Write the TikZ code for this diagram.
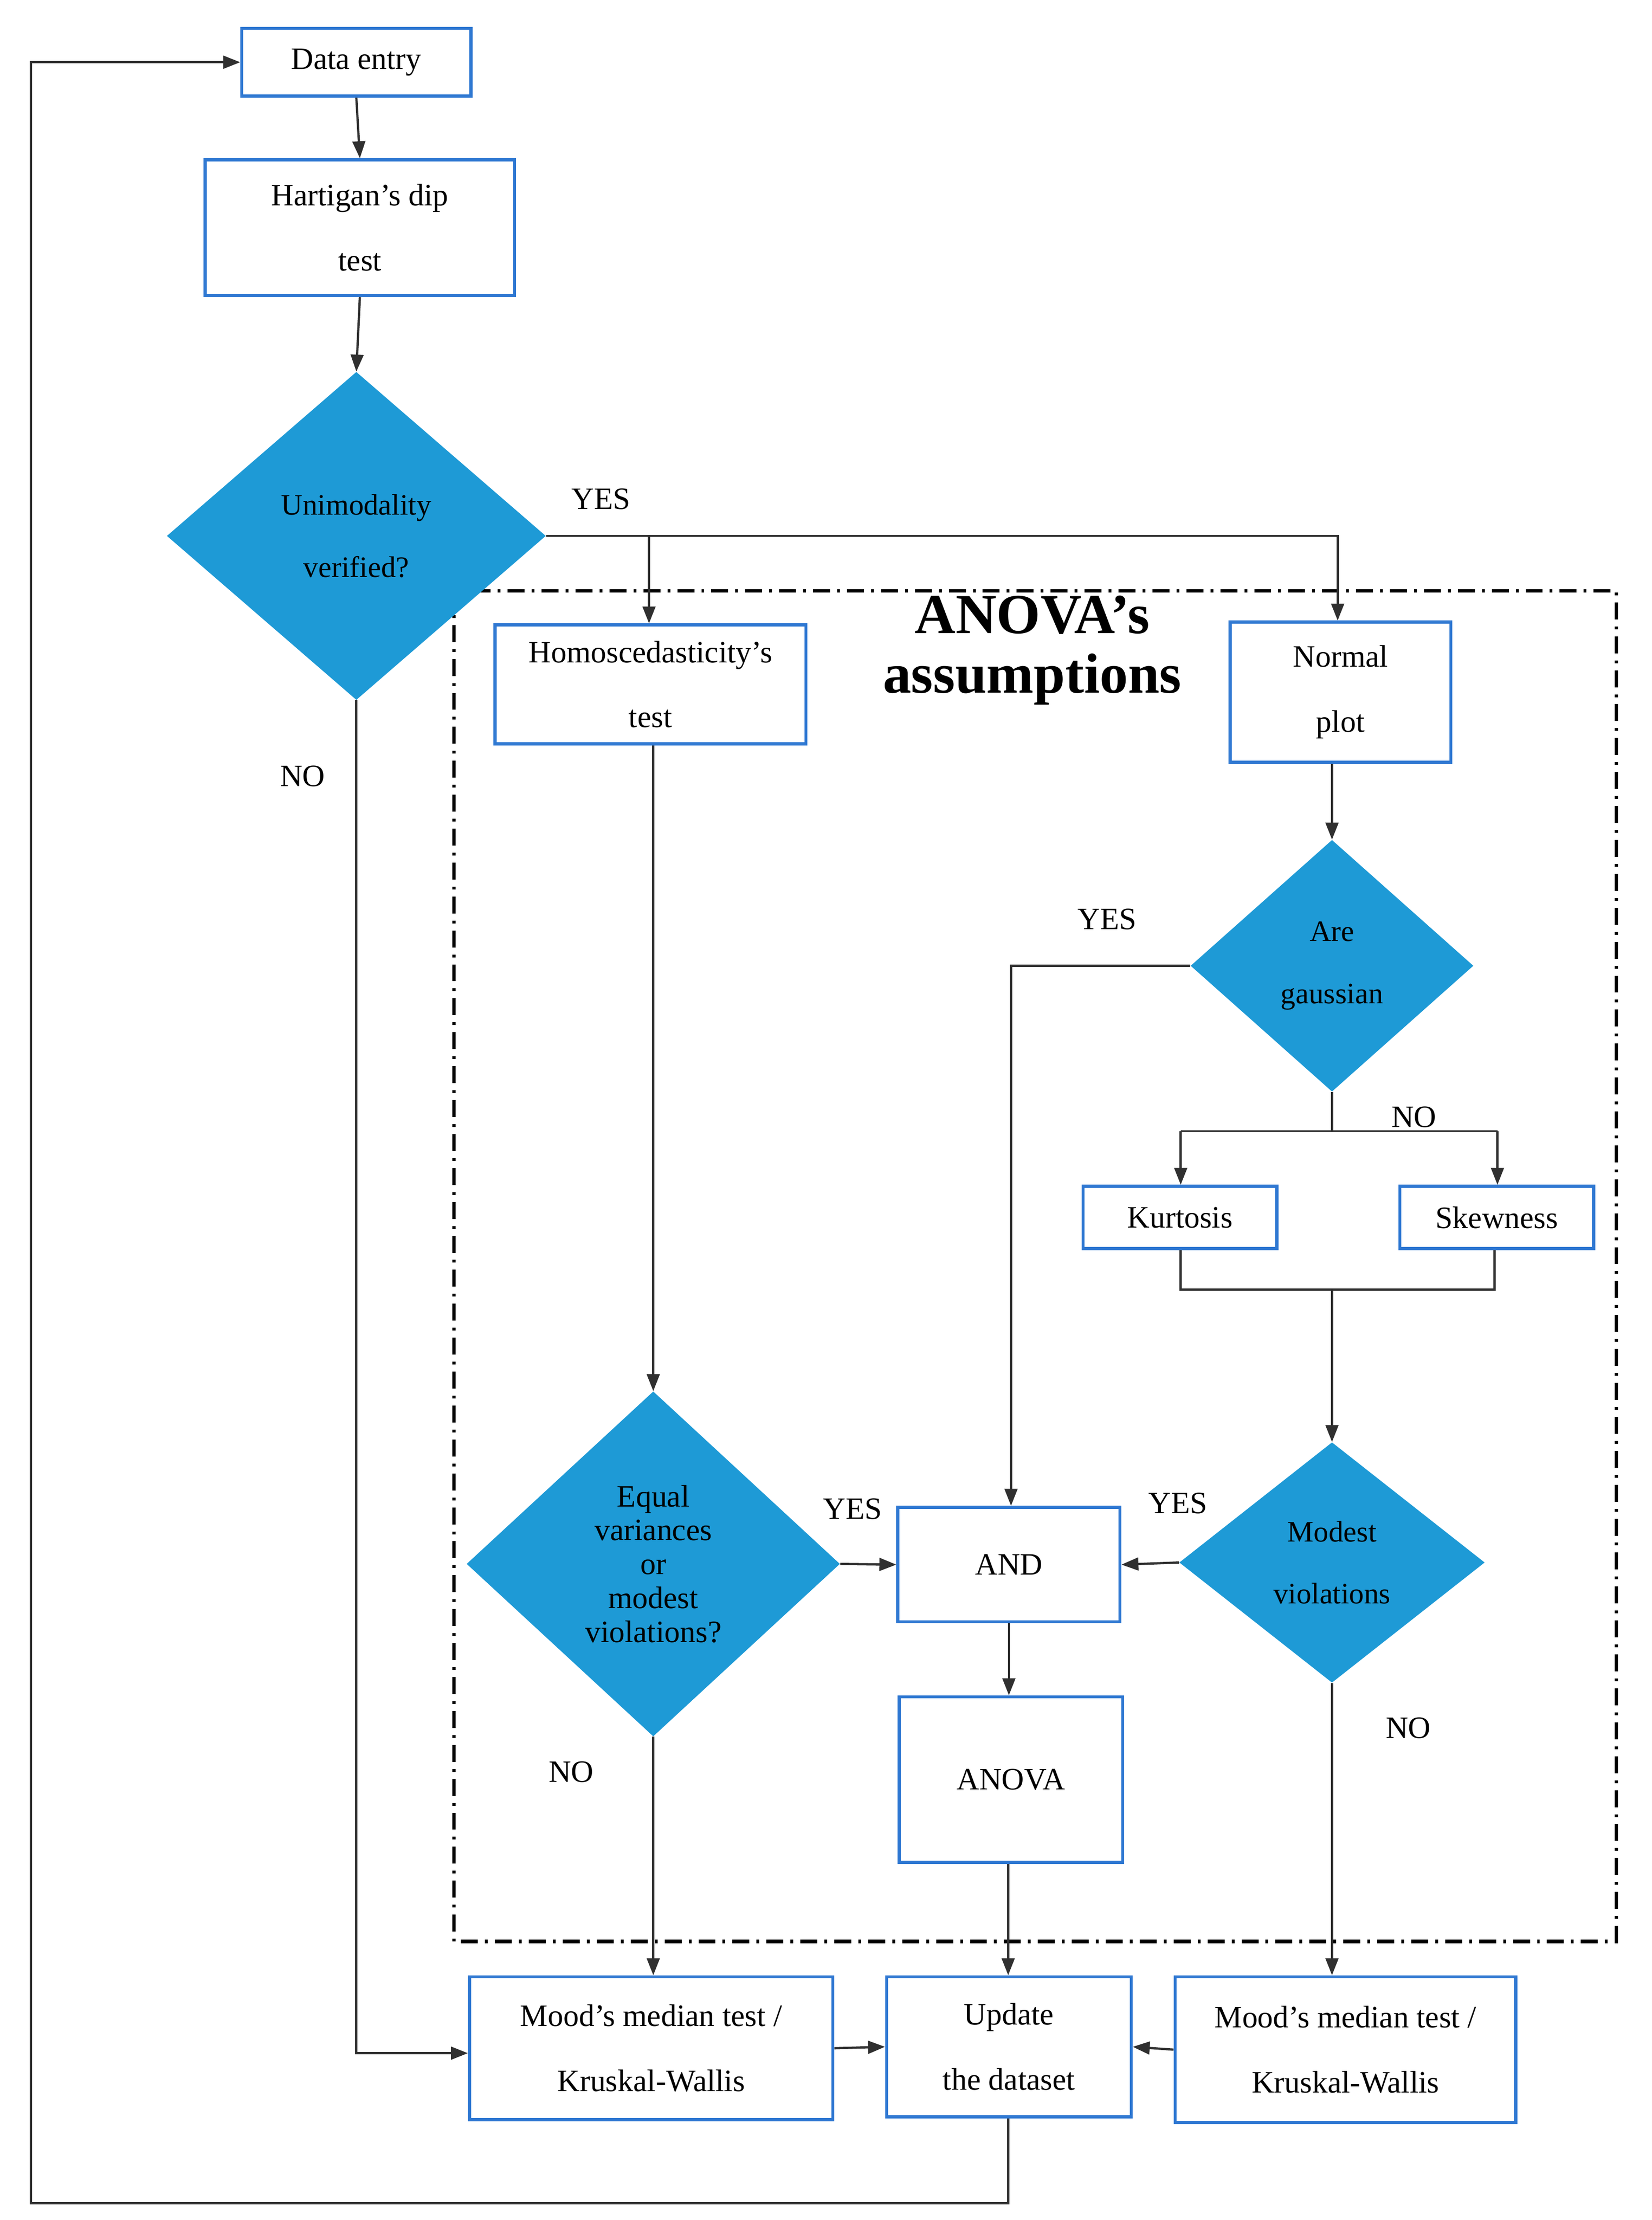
\documentclass[tikz,border=0pt]{standalone}
\usepackage{fontspec}
\setmainfont{Liberation Serif}
\usetikzlibrary{shapes.geometric,arrows.meta}
\definecolor{bbord}{HTML}{2F78D2}
\definecolor{dfill}{HTML}{1E9AD6}
\definecolor{lin}{HTML}{303030}
\begin{document}
\begin{tikzpicture}[x=1pt,y=-1pt,
  box/.style={draw=bbord,line width=2.2pt,fill=white,inner sep=0pt,align=center,font=\fontsize{22}{46}\selectfont},
  dia/.style={diamond,fill=dfill,inner sep=0pt,align=center,font=\fontsize{21}{44}\selectfont},
  lab/.style={font=\fontsize{22}{26}\selectfont},
  con/.style={draw=lin,line width=1.6pt},
  arr/.style={con,-{Triangle[length=12pt,width=9pt]}}]
\useasboundingbox (0,0) rectangle (1168,1570);
\draw[line width=2.4pt,dash pattern=on 12pt off 5pt on 2pt off 5pt] (321,418) rectangle (1143,1373);
\node[font=\fontsize{40}{42}\selectfont\bfseries,align=center] (title) at (730,460) {ANOVA’s\\assumptions};
% boxes
\node[box,minimum width=162pt,minimum height=48pt] (data) at (252,44) {Data entry};
\node[box,minimum width=219pt,minimum height=96pt] (hart) at (254.5,161) {Hartigan’s dip\\test};
\node[dia,minimum width=268pt,minimum height=232pt] (uni) at (252,379) {Unimodality\\verified?};
\node[box,minimum width=220pt,minimum height=84pt] (homo) at (460,484) {Homoscedasticity’s\\test};
\node[box,minimum width=156pt,minimum height=99pt] (norm) at (948,489.5) {Normal\\plot};
\node[dia,minimum width=200pt,minimum height=178pt] (gaus) at (942,683) {Are\\gaussian};
\node[box,minimum width=137pt,minimum height=44pt,font=\fontsize{22}{26}\selectfont] (kurt) at (834.5,861) {Kurtosis};
\node[box,minimum width=137pt,minimum height=44pt,font=\fontsize{22}{26}\selectfont] (skew) at (1058.5,861) {Skewness};
\node[dia,minimum width=216pt,minimum height=170pt] (mod) at (942,1105) {Modest\\violations};
\node[dia,minimum width=264pt,minimum height=244pt,font=\fontsize{22}{24}\selectfont] (eq) at (462,1106) {Equal\\variances\\or\\modest\\violations?};
\node[box,minimum width=157pt,minimum height=81pt,font=\fontsize{22}{26}\selectfont] (and) at (713.5,1106.5) {AND};
\node[box,minimum width=158pt,minimum height=117pt,font=\fontsize{22}{26}\selectfont] (anova) at (715,1258.5) {ANOVA};
\node[box,minimum width=257pt,minimum height=101pt] (moodl) at (460.5,1448.5) {Mood’s median test /\\Kruskal-Wallis};
\node[box,minimum width=173pt,minimum height=99pt] (upd) at (713.5,1447.5) {Update\\the dataset};
\node[box,minimum width=241pt,minimum height=103pt] (moodr) at (951.5,1449.5) {Mood’s median test /\\Kruskal-Wallis};
% labels
\node[lab] (y1) at (425,353) {YES};
\node[lab] (n1) at (214,549) {NO};
\node[lab] (y2) at (783,650) {YES};
\node[lab] (n2) at (1000,790) {NO};
\node[lab] (y3) at (833,1063) {YES};
\node[lab] (y4) at (603,1067) {YES};
\node[lab] (n3) at (404,1253) {NO};
\node[lab] (n4) at (996,1222) {NO};
% connectors
\draw[arr] (data.south) -- (hart.north);
\draw[arr] (hart.south) -- (uni.north);
\coordinate (b1) at (459,379);
\draw[arr] (uni.east) -- (946,379) -- (norm.north -| 946,0);
\draw[arr] (b1) -- (b1 |- homo.north);
\draw[arr] (norm.south -| 942,0) -- (gaus.north);
\draw[arr] (gaus.west) -- (715,683) -- (and.north -| 715,0);
\coordinate (g1) at (942,800);
\draw[con] (gaus.south) -- (g1);
\draw[arr] (835,800) -- (kurt.north -| 835,0);
\draw[arr] (1059,800) -- (skew.north -| 1059,0);
\draw[con] (835,800) -- (1059,800);
\draw[con] (kurt.south -| 835,0) -- (835,912) -- (1057,912) -- (skew.south -| 1057,0);
\draw[arr] (942,912) -- (mod.north);
\draw[arr] (mod.west) -- (and.east);
\draw[arr] (homo.south -| 462,0) -- (eq.north);
\draw[arr] (eq.east) -- (and.west);
\draw[arr] (and.south) -- (and.south |- anova.north);
\draw[arr] (anova.south -| 713,0) -- (upd.north -| 713,0);
\draw[arr] (eq.south) -- (eq.south |- moodl.north);
\draw[arr] (mod.south) -- (mod.south |- moodr.north);
\draw[arr] (moodl.east) -- (upd.west);
\draw[arr] (moodr.west) -- (upd.east);
\draw[arr] (uni.south) -- (252,1452) -- (moodl.west |- 0,1452);
\draw[arr] (upd.south -| 713,0) -- (713,1558) -- (22,1558) -- (22,44) -- (data.west);
\end{tikzpicture}
\end{document}
